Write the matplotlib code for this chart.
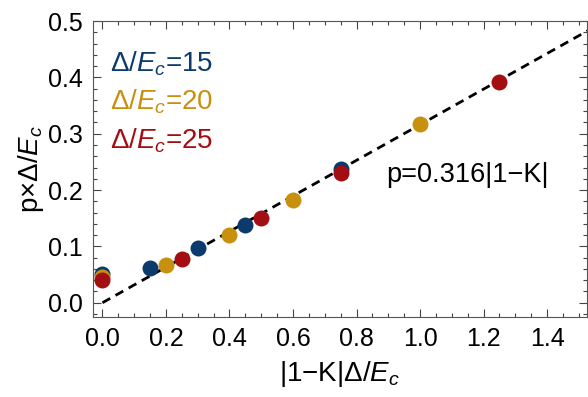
import numpy as np
from matplotlib import pyplot as plt
from matplotlib.ticker import MultipleLocator

plt.rcParams["font.family"] = ["Liberation Sans", "DejaVu Sans"]
plt.rcParams["mathtext.fontset"] = "custom"
plt.rcParams["mathtext.rm"] = "Liberation Sans"
plt.rcParams["mathtext.it"] = "Liberation Sans:italic"
plt.rcParams["mathtext.sf"] = "Liberation Sans"

# Data
labels = [r"$\Delta/E_c$=15", r"$\Delta/E_c$=20", r"$\Delta/E_c$=25"]
colors = ["#0b3b6d", "#c8900f", "#a30e12"]

x_15 = [0.0, 0.15, 0.30, 0.45, 0.75]
y_15 = [0.051, 0.062, 0.097, 0.138, 0.238]

x_20 = [0.0, 0.20, 0.40, 0.60, 1.00]
y_20 = [0.046, 0.067, 0.121, 0.183, 0.317]

x_25 = [0.0, 0.25, 0.50, 0.75, 1.25]
y_25 = [0.041, 0.078, 0.151, 0.230, 0.391]

slope = 0.316

fig = plt.figure(figsize=(5.88, 3.97), dpi=100)
ax = fig.add_axes([0.158, 0.202, 0.84, 0.745])

xs = [x_15, x_20, x_25]
ys = [y_15, y_20, y_25]

xfit = np.array([0.0, 1.6])
ax.plot(xfit, slope * xfit, ls=(0, (3.2, 2.2)), color="black", lw=2, zorder=1)

for x, y, c in zip(xs, ys, colors):
    ax.plot(x, y, "o", color=c, ms=11.5, mec="none", zorder=2)

ax.set_xlim(-0.03, 1.525)
ax.set_ylim(-0.025, 0.5)

ax.xaxis.set_major_locator(MultipleLocator(0.2))
ax.xaxis.set_minor_locator(MultipleLocator(0.05))
ax.yaxis.set_major_locator(MultipleLocator(0.1))
ax.yaxis.set_minor_locator(MultipleLocator(0.02))
ax.xaxis.set_major_formatter(lambda v, p: f"{v:.1f}")
ax.yaxis.set_major_formatter(lambda v, p: f"{v:.1f}")

ax.tick_params(which="both", direction="in", top=True, right=True,
               color="#444444", width=0.8)
ax.tick_params(which="major", length=6, labelsize=18, pad=7)
ax.tick_params(which="minor", length=3)
for s in ax.spines.values():
    s.set_color("#555555")
    s.set_linewidth(0.8)

for i, (lab, c) in enumerate(zip(labels, colors)):
    ax.text(0.025, 0.425 - i * 0.069, lab, color=c, fontsize=20,
            va="center", ha="left")

ax.text(1.15, 0.226, "p=0.316|1\u2212K|", fontsize=19.5, ha="center",
        va="center")

ax.set_xlabel(r"|1$-$K|$\Delta/E_c$", fontsize=20, labelpad=6)
ax.set_ylabel(r"p$\times\Delta/E_c$", fontsize=20, labelpad=2)

fig.savefig("out.png", dpi=100)
